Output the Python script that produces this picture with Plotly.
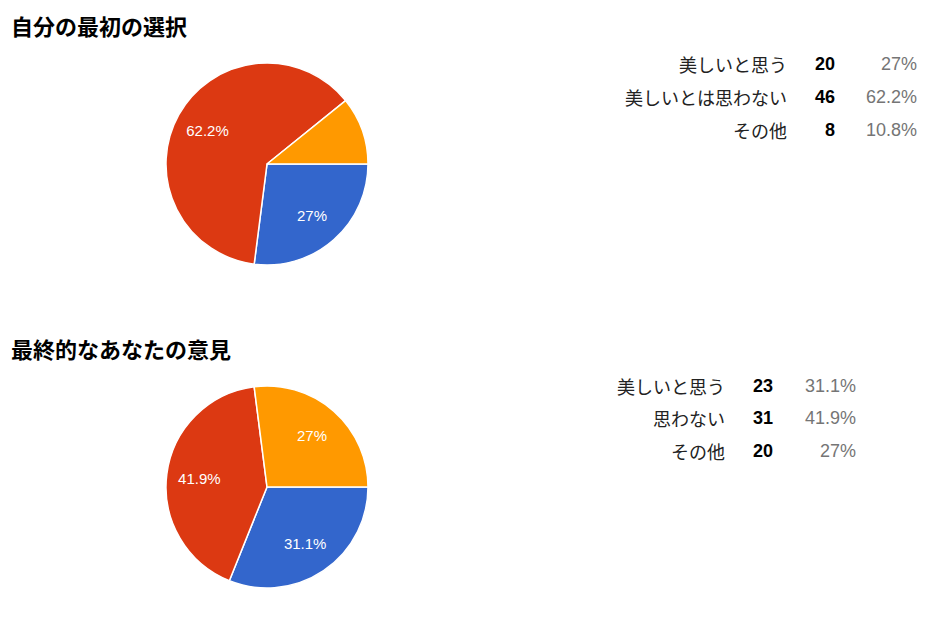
import plotly.graph_objects as go

# chart data
titles = ["自分の最初の選択", "最終的なあなたの意見"]
labels_1 = ["美しいと思う", "美しいとは思わない", "その他"]
values_1 = [20, 46, 8]
labels_2 = ["美しいと思う", "思わない", "その他"]
values_2 = [23, 31, 20]
percent_1 = ["27%", "62.2%", "10.8%"]
percent_2 = ["31.1%", "41.9%", "27%"]

colors = ["#3366cc", "#dc3912", "#ff9900"]
W, H = 946, 622
OFF = 8  # page body margin
FONT = "Arial, 'Liberation Sans', 'Noto Sans CJK JP', sans-serif"
CJK = "'Noto Sans CJK JP', sans-serif"

fig = go.Figure()


def px_x(v):
    return (v - OFF) / W


def px_y(v):
    return 1 - (v - OFF) / H


def add_pie(labels, values, cx, cy, r, hide):
    dom = dict(x=[px_x(cx - r), px_x(cx + r)], y=[px_y(cy + r), px_y(cy - r)])
    fig.add_trace(go.Pie(
        labels=labels, values=values, sort=False,
        direction="clockwise", rotation=90,
        marker=dict(colors=colors, line=dict(color="white", width=1.5)),
        textinfo="none", showlegend=False,
        hoverinfo="label+value+percent", domain=dom,
    ))
    # transparent ring on top just to push the % labels outward like google charts
    fig.add_trace(go.Pie(
        labels=labels, values=values, sort=False,
        direction="clockwise", rotation=90, hole=0.35,
        marker=dict(colors=["rgba(0,0,0,0)"] * len(values), line=dict(width=0)),
        texttemplate=["" if i in hide else "%{percent}" for i in range(len(values))],
        textposition="inside", insidetextorientation="horizontal",
        textfont=dict(color="white", size=15, family=FONT),
        showlegend=False, hoverinfo="skip", domain=dom,
    ))


add_pie(labels_1, values_1, 267, 164, 101, hide=[2])
add_pie(labels_2, values_2, 267, 487, 101, hide=[])

annotations = []
for title, ty in zip(titles, [25, 348]):
    annotations.append(dict(
        text="<b>" + title + "</b>", x=px_x(9), y=px_y(ty), xref="paper", yref="paper",
        xanchor="left", yanchor="middle", showarrow=False,
        font=dict(size=22, color="#000000", family=CJK),
    ))


def add_table(labels, values, percents, rows_y, x_label, x_val, x_pct):
    for lab, val, pct, ry in zip(labels, values, percents, rows_y):
        annotations.append(dict(
            text=lab, x=px_x(x_label), y=px_y(ry), xref="paper", yref="paper",
            xanchor="right", yanchor="middle", showarrow=False,
            font=dict(size=18, color="#222222", family=CJK),
        ))
        annotations.append(dict(
            text="<b>" + str(val) + "</b>", x=px_x(x_val), y=px_y(ry), xref="paper", yref="paper",
            xanchor="right", yanchor="middle", showarrow=False,
            font=dict(size=18, color="#000000", family=FONT),
        ))
        annotations.append(dict(
            text=pct, x=px_x(x_pct), y=px_y(ry), xref="paper", yref="paper",
            xanchor="right", yanchor="middle", showarrow=False,
            font=dict(size=18, color="#757575", family=FONT),
        ))


add_table(labels_1, values_1, percent_1, [64, 97, 130], 789, 837, 919)
add_table(labels_2, values_2, percent_2, [386, 418, 451], 727, 775, 858)

fig.update_layout(
    width=W, height=H,
    margin=dict(l=0, r=0, t=0, b=0),
    paper_bgcolor="white",
    plot_bgcolor="white",
    annotations=annotations,
)

fig.write_html("out.html")
